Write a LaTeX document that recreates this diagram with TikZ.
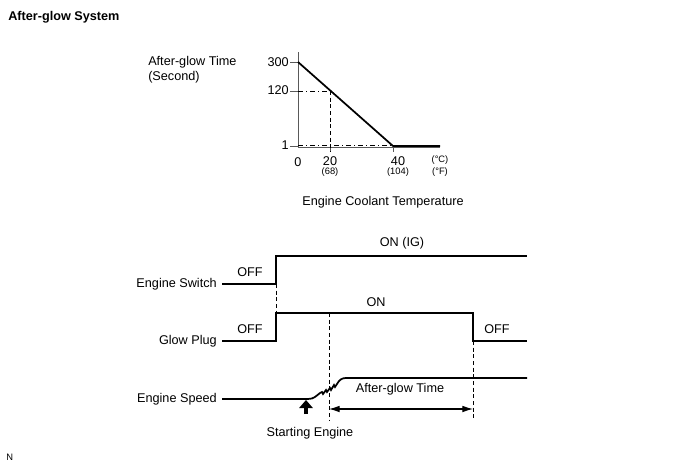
\documentclass[tikz,border=0pt]{standalone}
\usepackage{fontspec}
\setmainfont{Liberation Sans}
\usetikzlibrary{arrows.meta}
\begin{document}
\begin{tikzpicture}[x=0.75pt,y=-0.75pt,
  txt/.style={inner sep=0pt,font=\fontsize{9.5}{11}\selectfont},
  sml/.style={inner sep=0pt,font=\fontsize{7}{8}\selectfont},
  sig/.style={line width=1.3pt},
  ax/.style={line width=0.6pt,gray!70!black},
  dsh/.style={dashed,line width=0.5pt,dash pattern=on 3pt off 2pt},
  dd/.style={line width=0.5pt,dash pattern=on 4pt off 2pt on 1pt off 2pt}]
\useasboundingbox (0,0) rectangle (690,465);
\node[txt,anchor=west,font=\bfseries\fontsize{9.5}{11}\selectfont] (title) at (8,17) {After-glow System};
\node[txt,anchor=west,font=\fontsize{7}{8}\selectfont] (n) at (6,457) {N};
% graph
\coordinate (o) at (298,147);
\coordinate (ytop) at (298,52);
\coordinate (xend) at (440,147);
\draw[ax] (ytop) -- (o) -- (xend);
\draw[ax] (290,62) -- (298,62);
\draw[ax] (290,91) -- (298,91);
\draw[ax] (290,146) -- (298,146);
\draw[ax] (330,147) -- (330,152);
\draw[ax] (393,147) -- (393,152);
\draw[dd] (298,91) -- (330,91);
\draw[dsh] (330,91) -- (330,152);
\draw[dd] (298,145) -- (393,145);
\draw[sig] (298,62) coordinate (p1) -- (393,146) coordinate (p2) -- (440,146);
\node[txt,anchor=east] (l300) at (289,62) {300};
\node[txt,anchor=east] (l120) at (289,90) {120};
\node[txt,anchor=east] (l1) at (289,145) {1};
\node[txt] (x0) at (298,162) {0};
\node[txt] (x20) at (330,161) {20};
\node[sml] (x68) at (330,172) {(68)};
\node[txt] (x40) at (398,161) {40};
\node[sml] (x104) at (398,172) {(104)};
\node[sml] (xc) at (440,160) {(°C)};
\node[sml] (xf) at (440,172) {(°F)};
\node[txt,anchor=west,align=left] (yl) at (148,70) {After-glow Time\\(Second)};
\node[txt] (xl) at (383,202) {Engine Coolant Temperature};
% timing
\node[txt,anchor=east] (es) at (217,284) {Engine Switch};
\node[txt,anchor=east] (gp) at (217,341) {Glow Plug};
\node[txt,anchor=east] (sp) at (217,399) {Engine Speed};
\draw[sig] (222,284) -- (276,284) -- (276,256) -- (527,256);
\draw[sig] (222,341) -- (276,341) -- (276,313) -- (473,313) -- (473,341) -- (527,341);
\draw[sig] (222,399) -- (308,399) .. controls (314,399) and (316,396) .. (320,393)
  -- (322,392) -- (323,394) -- (326,390) -- (327,392) -- (330,388) -- (331,390) -- (334,385)-- (335,387) -- (339,381)
  .. controls (342,378) and (344,378) .. (348,378) -- (527,378);
\node[txt] (off1) at (250,272) {OFF};
\node[txt] (onig) at (402,243) {ON (IG)};
\node[txt] (off2) at (250,329) {OFF};
\node[txt] (on) at (376,302) {ON};
\node[txt] (off3) at (497,329) {OFF};
\draw[dsh] (276,284) -- (276,313);
\draw[dsh] (329,313) -- (329,420);
\draw[dsh] (473,341) -- (473,420);
\coordinate (a1) at (329,409);
\coordinate (a2) at (473,409);
\draw[{Latex[length=8pt,width=5pt]}-{Latex[length=8pt,width=5pt]},line width=0.8pt] (a1) -- (a2);
\node[txt] (agt) at (400,389) {After-glow Time};
\draw[-{Triangle[length=6pt,width=10pt]},line width=3pt] (306,414) -- (306,400);
\node[txt] (st) at (310,433) {Starting Engine};
\end{tikzpicture}
\end{document}
